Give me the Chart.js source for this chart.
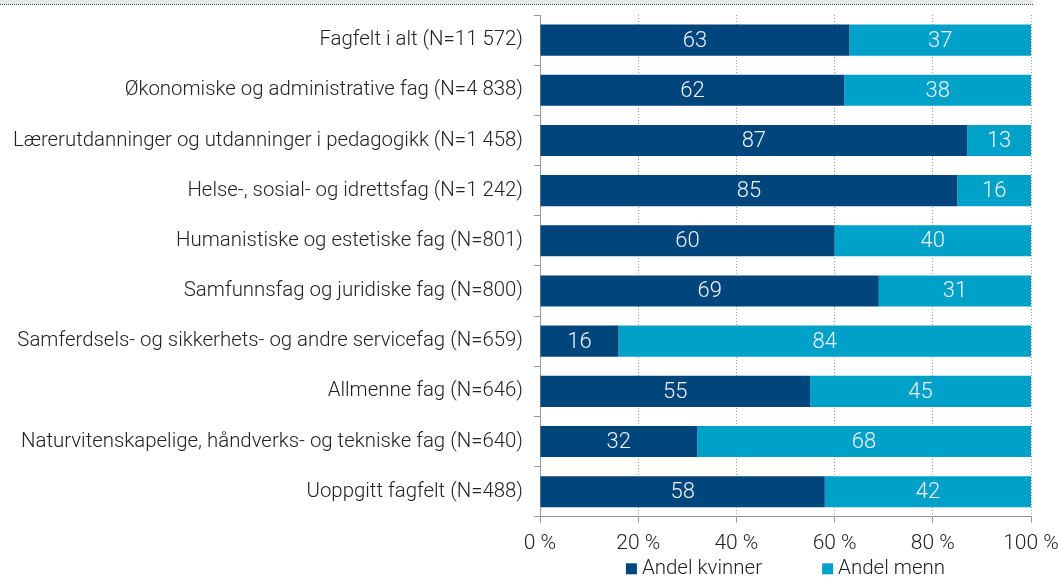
<!DOCTYPE html>
<html lang="no">
<head>
<meta charset="utf-8">
<title>Andel kvinner og menn etter fagfelt</title>
<script src="https://cdn.jsdelivr.net/npm/chart.js@4/dist/chart.umd.min.js"></script>
<style>
  html, body { margin: 0; padding: 0; background: #fff; }
  #wrap { width: 1058px; height: 581px; position: relative; }
</style>
</head>
<body>
<div id="wrap"><canvas id="chart"></canvas></div>
<script>
// Fagfelt with number of respondents
const categories = [
  "Fagfelt i alt (N=11 572)",
  "Økonomiske og administrative fag (N=4 838)",
  "Lærerutdanninger og utdanninger i pedagogikk (N=1 458)",
  "Helse-, sosial- og idrettsfag (N=1 242)",
  "Humanistiske og estetiske fag (N=801)",
  "Samfunnsfag og juridiske fag (N=800)",
  "Samferdsels- og sikkerhets- og andre servicefag (N=659)",
  "Allmenne fag (N=646)",
  "Naturvitenskapelige, håndverks- og tekniske fag (N=640)",
  "Uoppgitt fagfelt (N=488)",
];

// Shares in percent
const womenShare = [63, 62, 87, 85, 60, 69, 16, 55, 32, 58];
const menShare = [37, 38, 13, 16, 40, 31, 84, 45, 68, 42];

const seriesNames = ["Andel kvinner", "Andel menn"];
const seriesColors = ["#00457c", "#00a1c9"];
const FONT = "Roboto, 'DejaVu Sans', sans-serif";

// Light band and dotted rule along the top edge
const topRule = {
  id: "topRule",
  beforeDraw(chart) {
    const ctx = chart.ctx;
    const right = chart.chartArea.right + 2;
    ctx.save();
    ctx.fillStyle = "#e6eae8";
    ctx.fillRect(0, 0, right, 4);
    ctx.strokeStyle = "#444";
    ctx.lineWidth = 1;
    ctx.setLineDash([1, 1]);
    ctx.beginPath();
    ctx.moveTo(0, 4.5);
    ctx.lineTo(right, 4.5);
    ctx.stroke();
    ctx.restore();
  },
};

// Value labels in the middle of each bar segment
const barValues = {
  id: "barValues",
  afterDatasetsDraw(chart) {
    const ctx = chart.ctx;
    const area = chart.chartArea;
    ctx.save();
    ctx.font = "300 22px " + FONT;
    ctx.fillStyle = "#eef2f6";
    ctx.textAlign = "center";
    ctx.textBaseline = "middle";
    chart.data.datasets.forEach((ds, di) => {
      chart.getDatasetMeta(di).data.forEach((bar, i) => {
        const end = Math.min(bar.x, area.right);
        ctx.fillText(String(ds.data[i]), (bar.base + end) / 2, bar.y + 1);
      });
    });
    ctx.restore();
  },
};

// Legend under the plot, centred on the plot area, wide gap between items
const bottomLegend = {
  id: "bottomLegend",
  afterDraw(chart) {
    const ctx = chart.ctx;
    const area = chart.chartArea;
    const box = 11, gap = 5, spacing = 60;
    ctx.save();
    ctx.font = "300 20.5px " + FONT;
    ctx.textBaseline = "middle";
    ctx.textAlign = "left";
    const items = chart.data.datasets.map((ds) => ({
      text: ds.label,
      color: ds.backgroundColor,
      w: box + gap + ctx.measureText(ds.label).width,
    }));
    const total = items.reduce((s, it) => s + it.w, 0) + spacing * (items.length - 1);
    let x = (area.left + area.right) / 2 - total / 2;
    const y = area.bottom + 52;
    items.forEach((it) => {
      ctx.fillStyle = it.color;
      ctx.fillRect(x, y - box / 2, box, box);
      ctx.fillStyle = "#222";
      ctx.fillText(it.text, x + box + gap, y);
      x += it.w + spacing;
    });
    ctx.restore();
  },
};

const ctx = document.getElementById("chart").getContext("2d");
new Chart(ctx, {
  type: "bar",
  data: {
    labels: categories,
    datasets: [
      { label: seriesNames[0], data: womenShare, backgroundColor: seriesColors[0] },
      { label: seriesNames[1], data: menShare, backgroundColor: seriesColors[1] },
    ],
  },
  options: {
    indexAxis: "y",
    responsive: true,
    maintainAspectRatio: false,
    animation: false,
    categoryPercentage: 1,
    barPercentage: 0.62,
    layout: { padding: { top: 15, right: 0, bottom: 17, left: 0 } },
    scales: {
      x: {
        stacked: true,
        min: 0,
        max: 100,
        ticks: {
          stepSize: 20,
          color: "#222",
          font: { family: FONT, size: 21, weight: 300 },
          padding: 8,
          callback: (v) => v + " %",
        },
        grid: {
          color: "#9a9a9a",
          tickColor: "#999",
          tickLength: 6,
        },
        border: { color: "#999", dash: [1, 2] },
        afterFit(scale) {
          scale.paddingRight = 27;
        },
      },
      y: {
        stacked: true,
        ticks: {
          color: "#222",
          font: { family: FONT, size: 20.4, weight: 300 },
          padding: 11,
        },
        grid: {
          offset: true,
          drawOnChartArea: false,
          tickColor: "#999",
          tickLength: 6,
        },
        border: { color: "#999" },
        afterFit(scale) {
          scale.width = 540;
          scale.paddingTop = 0;
          scale.paddingBottom = 0;
        },
      },
    },
    plugins: {
      legend: { display: false },
      tooltip: { enabled: false },
    },
  },
  plugins: [topRule, barValues, bottomLegend],
});
</script>
</body>
</html>
